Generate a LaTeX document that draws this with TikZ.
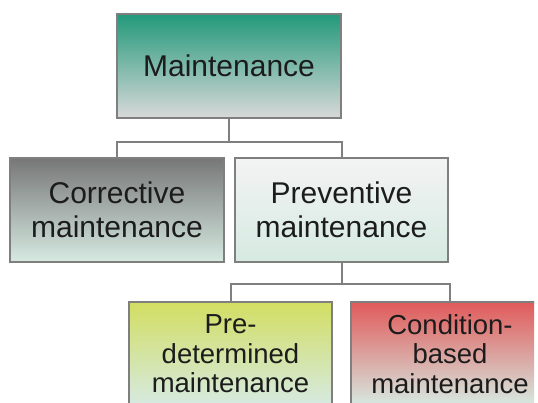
\documentclass[tikz,border=0pt]{standalone}
\usepackage{fontspec}
\setmainfont{Liberation Sans}
\usetikzlibrary{positioning}
\definecolor{EDGE}{HTML}{7F7F7F}
\definecolor{INK}{HTML}{1C1C1C}
\definecolor{TEAL}{HTML}{22997A}
\definecolor{TEAL_B}{HTML}{A9C9BD}
\definecolor{GREY_T}{HTML}{777777}
\definecolor{GREY_B}{HTML}{ADB3B0}
\definecolor{PALE}{HTML}{F3F3F3}
\definecolor{MINT}{HTML}{D6EAE2}
\definecolor{LIME}{HTML}{D2DE62}
\definecolor{LIME_B}{HTML}{DDE5AE}
\definecolor{RED}{HTML}{E05A5A}
\definecolor{RED_B}{HTML}{E4C2C0}
\tikzset{
	box/.style = {draw=EDGE, line width=1.5pt, align=center, text=INK, inner sep=0pt, minimum height=104pt},
	link/.style = {draw=EDGE, line width=2pt},
	every node/.style = {font=\fontsize{30}{34.5}\selectfont}
}
\begin{document}
\begin{tikzpicture}[x=1pt, y=-1pt]
		\useasboundingbox (0,0) rectangle (538,403);
		\clip (0,0) rectangle (534,403);
		% top
		\node[box, minimum width=224pt, top color=TEAL, middle color=TEAL_B, bottom color=black!15] (main) at (229,66) {Maintenance};
		% second row
		\node[box, minimum width=214pt, top color=GREY_T, middle color=GREY_B, bottom color=MINT] (corr) at (117,210) {Corrective\\maintenance};
		\node[box, minimum width=213pt, top color=PALE, bottom color=MINT] (prev) at (341.5,210) {Preventive\\maintenance};
		% third row
		\node[box, minimum width=203pt, top color=LIME, middle color=LIME_B, bottom color=MINT, font=\fontsize{27.5}{29.5}\selectfont] (pred) at (230.5,354) {Pre-\\determined\\maintenance};
		\node[box, minimum width=198pt, top color=RED, middle color=RED_B, bottom color=MINT, font=\fontsize{27.5}{29.5}\selectfont] (cond) at (450,354) {Condition-\\based\\maintenance};
		% links
		\draw[link] (main.south) -- ++(0,23) coordinate (fork1) -| (corr.north);
		\draw[link] (fork1) -| (prev.north);
		\draw[link] (prev.south) -- ++(0,21) coordinate (fork2) -| (pred.north);
		\draw[link] (fork2) -| (cond.north);
	\end{tikzpicture}
\end{document}
